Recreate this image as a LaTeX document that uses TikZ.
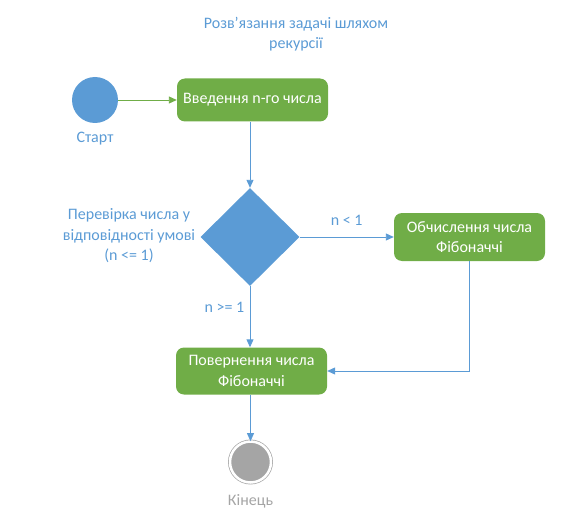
\documentclass[tikz,border=0pt]{standalone}
\usepackage{fontspec}
\setmainfont{Carlito}
\usepackage{xcolor}
\usetikzlibrary{positioning,arrows.meta,shapes.geometric}

\definecolor{flowblue}{HTML}{5B9BD5}
\definecolor{flowgreen}{HTML}{70AD47}
\definecolor{flowgray}{HTML}{A5A5A5}

\begin{document}
\begin{tikzpicture}[
  x=1pt, y=-1pt,
  font=\fontsize{16}{20.5}\selectfont,
  >={Triangle[length=8pt,width=7pt]},
  action/.style ={rectangle, rounded corners=8pt, fill=flowgreen, text=white,
                  align=center, minimum width=151pt, inner sep=2pt},
  check/.style  ={diamond, fill=flowblue, minimum width=99pt, minimum height=98pt,
                  inner sep=0pt},
  startpt/.style={circle, fill=flowblue, minimum size=46pt, inner sep=0pt},
  endpt/.style  ={circle, fill=flowgray, draw=flowgray, line width=0.7pt,
                  double=white, double distance=2.5pt, minimum size=41pt, inner sep=0pt},
  note/.style   ={text=flowblue, align=center},
  arr/.style    ={->, draw=flowblue, line width=0.9pt},
]
\useasboundingbox (0,0) rectangle (567,524);

% ---------- title ----------
\node[note] (title) at (296,34) {Розв'язання задачі шляхом\\ рекурсії};

% ---------- nodes ----------
\node[startpt] (start) at (95,100) {};
\node[note, below=5pt of start] (startlbl) {Старт};
\node[action, minimum height=43pt] (input) at (252.5,100) {Введення n-го числа};
\node[check] (cond) at (250,237) {};
\node[note] (condlbl) at (129,236) {Перевірка числа у\\ відповідності умові\\ (n <= 1)};
\node[action, minimum height=48pt] (calc) at (469.5,237) {Обчислення числа\\ Фібоначчі};
\node[action, minimum height=47pt] (ret) at (251.5,371) {Повернення числа\\ Фібоначчі};
\node[endpt] (finish) at (250.5,462) {};
\node[text=flowgray, below=8pt of finish] (finishlbl) {Кінець};

% ---------- arrows ----------
\draw[arr, draw=flowgreen] (start) -- (input);
\draw[arr] (input.south -| cond.north) -- (cond.north);
\draw[arr] (cond.east) -- node[note, above=8pt, pos=0.5] {n < 1} (calc.west);
\draw[arr] (cond.south) -- node[note, left=2pt, pos=0.35] {n >= 1} (cond.south |- ret.north);
\draw[arr] (calc.south) |- (ret.east);
\draw[arr] (ret.south -| finish.north) -- (finish.north);

\end{tikzpicture}
\end{document}
